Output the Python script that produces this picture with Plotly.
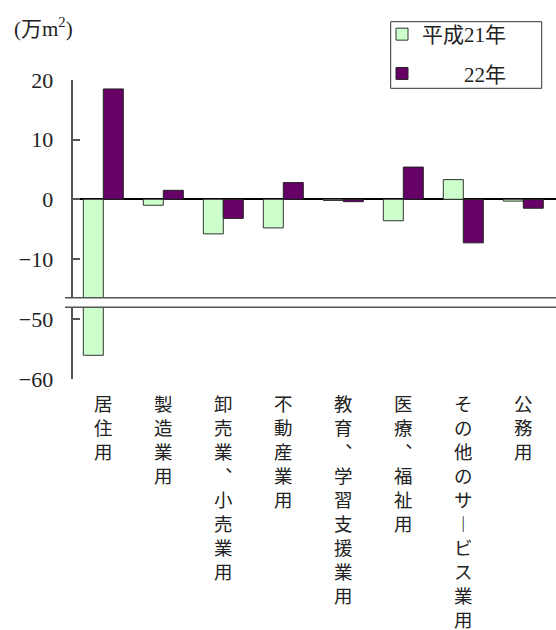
import plotly.graph_objects as go

# Change in floor area started, by use (10,000 m²)
categories = ["居住用", "製造業用", "卸売業、小売業用", "不動産業用",
              "教育、学習支援業用", "医療、福祉用", "その他のサービス業用", "公務用"]
h21 = [-56.0, -1.0, -5.8, -4.8, -0.2, -3.6, 3.3, -0.3]
h22 = [18.5, 1.5, -3.2, 2.8, -0.4, 5.4, -7.3, -1.5]
series_names = ["平成21年", "　　22年"]
upper_ticks = [-10, 0, 10, 20]
lower_ticks = [-60, -50]
unit_label = "(万m<sup>2</sup>)"

W, H = 556, 630
SERIF = "Liberation Serif, serif"
CJK_SERIF = "Liberation Serif, Noto Sans CJK JP"
SANS = "Noto Sans CJK JP"
GREEN = "#CCFFCC"
PURPLE = "#660066"
AXIS_GREY = "#555555"


def fx(p):
    return p / W


def fy(p):
    return 1 - p / H


# vertical-writing forms for punctuation in stacked labels
VERT = {"、": "︑", "ー": "︱"}


def vertical(label):
    return "<br>".join(VERT.get(c, c) for c in label)


# broken value axis: upper panel and lower panel
upper_dom = [fy(297.7), fy(80)]
lower_dom = [fy(379.3), fy(307.3)]
upper_rng = [-16.5, 20]
lower_rng = [-60, -48]

fig = go.Figure()
styles = [
    dict(color=GREEN, line=dict(color="#333333", width=1)),
    dict(color=PURPLE, line=dict(color="#222222", width=1)),
]
for yax, show in (("y", True), ("y2", False)):
    for i, vals in enumerate((h21, h22)):
        fig.add_trace(go.Bar(
            x=categories, y=vals, name=series_names[i],
            marker=styles[i], xaxis="x", yaxis=yax,
            offsetgroup=str(i), legendgroup=str(i), showlegend=show,
        ))

yaxis_common = dict(
    showline=True, linecolor=AXIS_GREY, linewidth=1.5,
    ticks="inside", ticklen=7, tickcolor=AXIS_GREY, tickwidth=1.5,
    showgrid=False, tickfont=dict(family=SERIF, size=22, color="#222222"),
    ticklabelstandoff=14, fixedrange=True, automargin=False,
)

fig.update_layout(
    template="none",
    width=W, height=H,
    margin=dict(l=0, r=0, t=0, b=0, autoexpand=False),
    paper_bgcolor="white", plot_bgcolor="rgba(0,0,0,0)",
    barmode="group", bargap=1 / 3, bargroupgap=0,
    xaxis=dict(
        domain=[fx(73.3), 1.0], anchor="y2",
        range=[-0.5, 7.545], type="category",
        tickvals=categories, ticktext=[vertical(c) for c in categories],
        tickfont=dict(family=SANS, size=18.5, color="#222222"),
        showline=False, ticks="", showgrid=False, zeroline=False,
        ticklabelstandoff=12, tickangle=0, automargin=False,
    ),
    yaxis=dict(
        domain=upper_dom, range=upper_rng, tickvals=upper_ticks,
        zeroline=True, zerolinecolor="#000000", zerolinewidth=1.5,
        anchor="x", **yaxis_common,
    ),
    yaxis2=dict(
        domain=lower_dom, range=lower_rng, tickvals=lower_ticks,
        zeroline=False, anchor="x", **yaxis_common,
    ),
    legend=dict(
        x=fx(382), y=fy(14), xanchor="left", yanchor="top",
        borderwidth=0, bgcolor="rgba(0,0,0,0)",
        font=dict(family=CJK_SERIF, size=21, color="#222222"),
        traceorder="grouped", tracegroupgap=9,
    ),
    showlegend=True,
)

# legend frame
fig.add_shape(type="rect", xref="paper", yref="paper",
              x0=fx(390.7), x1=fx(541.7), y0=fy(88.3), y1=fy(21.7),
              line=dict(color="#333333", width=1), fillcolor="rgba(0,0,0,0)")

# axis-break marks across the chart
for p in (297.7, 307.3):
    fig.add_shape(type="line", xref="paper", yref="paper",
                  x0=fx(65), x1=1.0, y0=fy(p), y1=fy(p),
                  line=dict(color=AXIS_GREY, width=1.5))

fig.add_annotation(
    text=unit_label, xref="paper", yref="paper",
    x=fx(12), y=fy(28), xanchor="left", yanchor="middle",
    showarrow=False, font=dict(family=CJK_SERIF, size=21, color="#222222"),
)

fig.write_html("out.html")
